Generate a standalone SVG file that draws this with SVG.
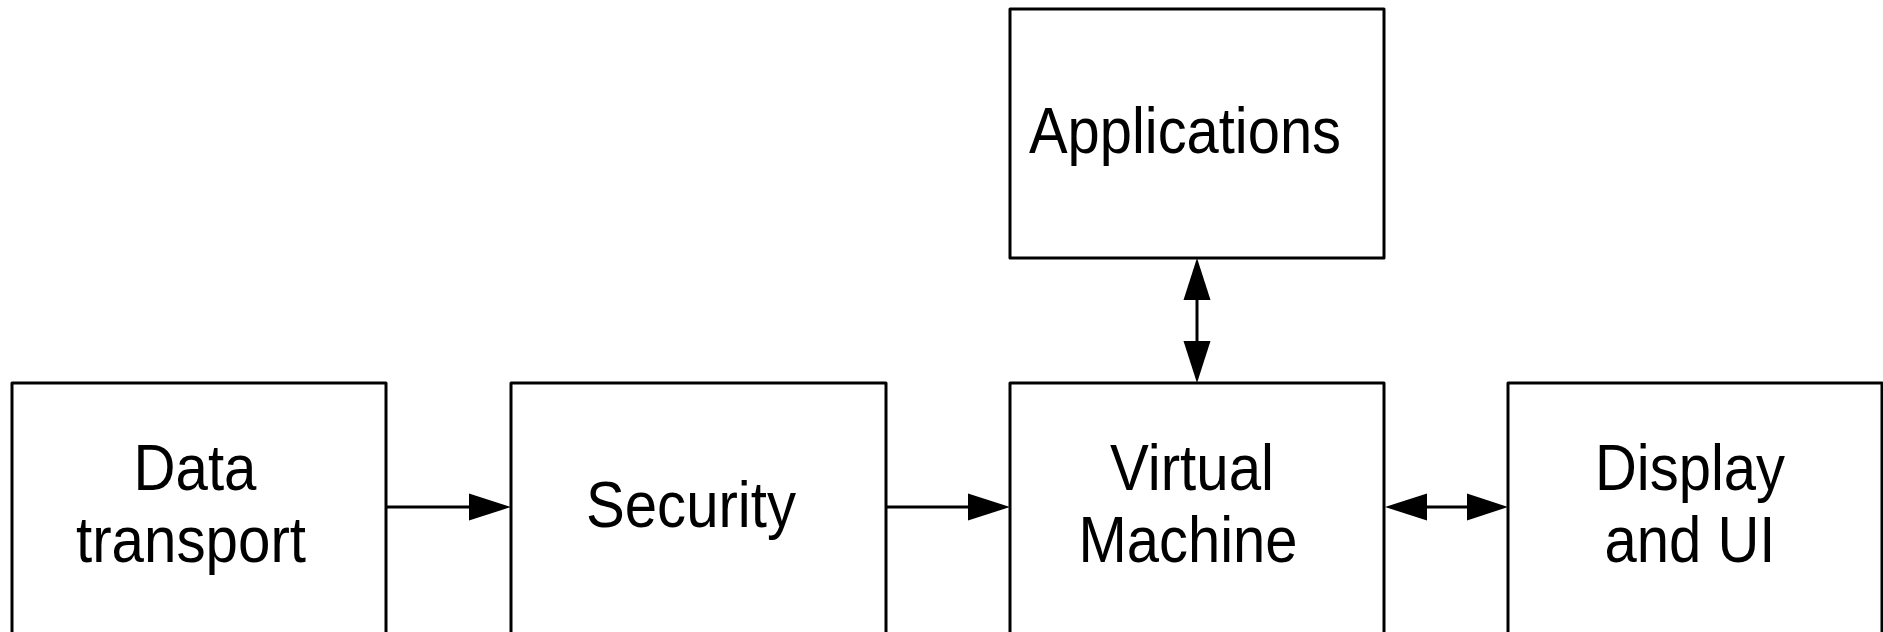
<svg xmlns="http://www.w3.org/2000/svg" width="1883" height="632" viewBox="0 0 1883 632">
<style>
.box{fill:#fff;stroke:#000;stroke-width:3;stroke-linejoin:round}
.lbl{font-family:"Liberation Sans",Arial,Helvetica,sans-serif;font-size:65px;fill:#000;text-anchor:middle}
.conn{stroke:#000;stroke-width:3;fill:none}
.head{fill:#000;stroke:none}
</style>
<rect width="1883" height="632" fill="#fff"/>
<g id="node-data-transport">
<rect class="box" x="12" y="383" width="374" height="262"/>
<text class="lbl" x="195" y="490" textLength="123" lengthAdjust="spacingAndGlyphs">Data</text>
<text class="lbl" x="191" y="562" textLength="230" lengthAdjust="spacingAndGlyphs">transport</text>
</g>
<g id="node-security">
<rect class="box" x="511" y="383" width="375" height="262"/>
<text class="lbl" x="691" y="527" textLength="210" lengthAdjust="spacingAndGlyphs">Security</text>
</g>
<g id="node-virtual-machine">
<rect class="box" x="1010" y="383" width="374" height="262"/>
<text class="lbl" x="1192" y="490" textLength="164" lengthAdjust="spacingAndGlyphs">Virtual</text>
<text class="lbl" x="1188" y="562" textLength="219" lengthAdjust="spacingAndGlyphs">Machine</text>
</g>
<g id="node-applications">
<rect class="box" x="1010" y="9" width="374" height="249"/>
<text class="lbl" x="1185" y="153" textLength="312" lengthAdjust="spacingAndGlyphs">Applications</text>
</g>
<g id="node-display">
<rect class="box" x="1508" y="383" width="374" height="262"/>
<text class="lbl" x="1690" y="490" textLength="190" lengthAdjust="spacingAndGlyphs">Display</text>
<text class="lbl" x="1690" y="562" textLength="171" lengthAdjust="spacingAndGlyphs">and UI</text>
</g>
<g id="connectors">
<line class="conn" x1="386" y1="507" x2="470" y2="507"/>
<polygon class="head" points="469,493.5 511,507 469,520.5"/>
<line class="conn" x1="886" y1="507" x2="969" y2="507"/>
<polygon class="head" points="968,493.5 1010,507 968,520.5"/>
<line class="conn" x1="1426" y1="507" x2="1468" y2="507"/>
<polygon class="head" points="1427,493.5 1385,507 1427,520.5"/>
<polygon class="head" points="1467,493.5 1508,507 1467,520.5"/>
<line class="conn" x1="1197" y1="299" x2="1197" y2="342"/>
<polygon class="head" points="1183.5,300 1197,258 1210.5,300"/>
<polygon class="head" points="1183.5,341 1197,383 1210.5,341"/>
</g>
</svg>
